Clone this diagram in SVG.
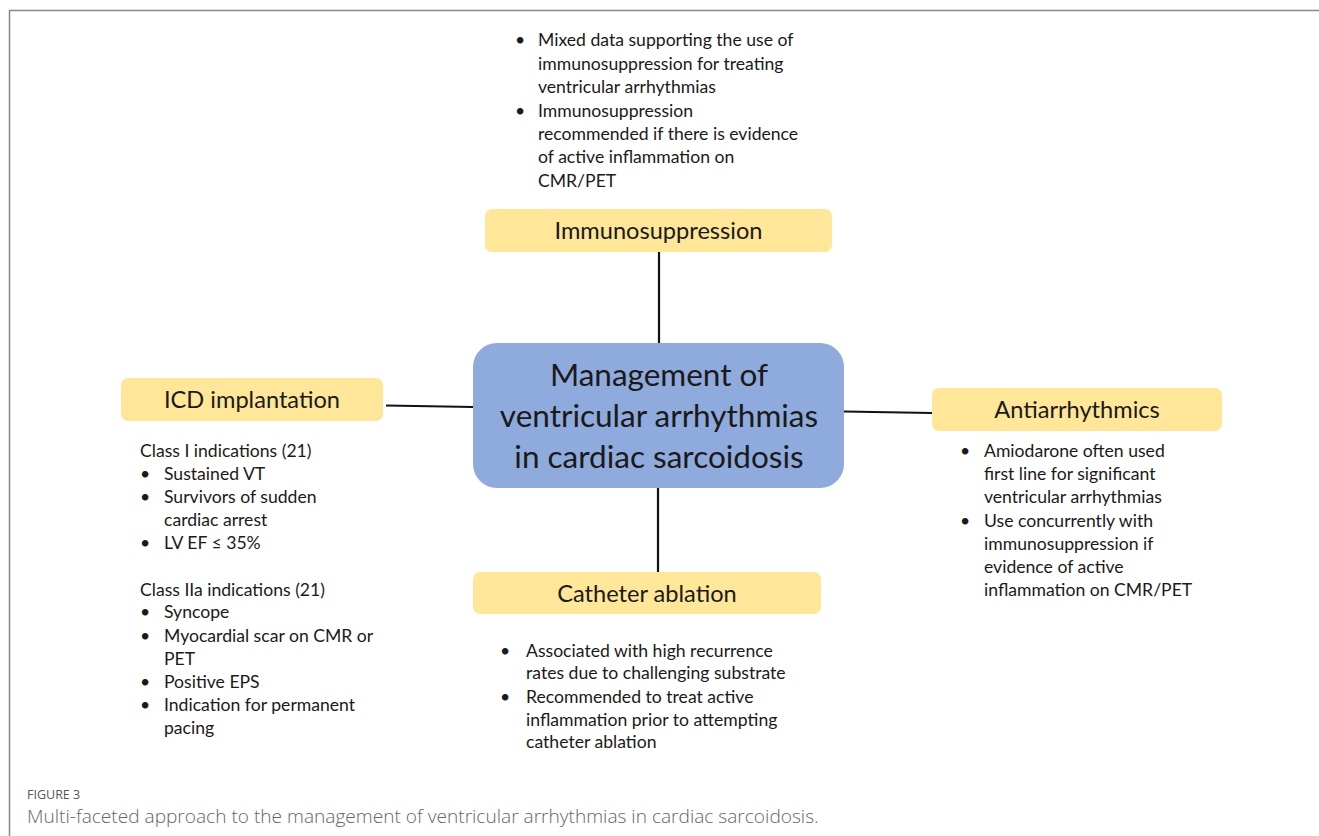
<svg xmlns="http://www.w3.org/2000/svg" width="1319" height="836" viewBox="0 0 1319 836">
<style>
text{font-family:Lato,"Open Sans","Liberation Sans",sans-serif;fill:#1a1a1a}
.box{fill:#FFE699}
.hd{font-size:23.6px;text-anchor:middle}
.b{font-size:17.6px}
.c{font-size:31.5px;text-anchor:middle}
.con{stroke:#111;stroke-width:2.2;fill:none}
.cap1{font-size:12.5px;fill:#555;font-family:"Open Sans","Noto Sans",sans-serif}
.cap2{font-size:19.1px;fill:#666;font-weight:300;font-family:"Open Sans","Noto Sans",sans-serif}
</style>
<rect width="1319" height="836" fill="#fff"/>
<path d="M9.5 836V10.5H1319" fill="none" stroke="#888" stroke-width="1.5"/>
<g id="connectors">
<line class="con" x1="659" y1="252" x2="659" y2="343"/>
<line class="con" x1="386" y1="405.5" x2="473" y2="407"/>
<line class="con" x1="844" y1="411.5" x2="932" y2="413"/>
<line class="con" x1="658" y1="488" x2="658" y2="572"/>
</g>
<g id="center">
<rect x="473" y="343" width="371" height="145" rx="24" fill="#8FAADC"/>
<text class="c" x="659" y="386">Management of</text>
<text class="c" x="659" y="427">ventricular arrhythmias</text>
<text class="c" x="659" y="468">in cardiac sarcoidosis</text>
</g>
<g id="immunosuppression">
<rect class="box" x="485" y="209" width="347" height="43" rx="7"/>
<text class="hd" x="658.5" y="239">Immunosuppression</text>
<g class="b">
<text x="515" y="46">•</text><text x="538" y="46">Mixed data supporting the use of</text>
<text x="538" y="70">immunosuppression for treating</text>
<text x="538" y="93">ventricular arrhythmias</text>
<text x="515" y="117">•</text><text x="538" y="117">Immunosuppression</text>
<text x="538" y="140">recommended if there is evidence</text>
<text x="538" y="163">of active inflammation on</text>
<text x="538" y="187">CMR/PET</text>
</g>
</g>
<g id="icd">
<rect class="box" x="121" y="378" width="262" height="43" rx="7"/>
<text class="hd" x="252" y="408">ICD implantation</text>
<g class="b">
<text x="140" y="457">Class I indications (21)</text>
<text x="140" y="480">•</text><text x="164" y="480">Sustained VT</text>
<text x="140" y="503">•</text><text x="164" y="503">Survivors of sudden</text>
<text x="164" y="526">cardiac arrest</text>
<text x="140" y="549">•</text><text x="164" y="549">LV EF ≤ 35%</text>
<text x="140" y="596">Class IIa indications (21)</text>
<text x="140" y="618">•</text><text x="164" y="618">Syncope</text>
<text x="140" y="642">•</text><text x="164" y="642">Myocardial scar on CMR or</text>
<text x="164" y="665">PET</text>
<text x="140" y="688">•</text><text x="164" y="688">Positive EPS</text>
<text x="140" y="711">•</text><text x="164" y="711">Indication for permanent</text>
<text x="164" y="734">pacing</text>
</g>
</g>
<g id="antiarrhythmics">
<rect class="box" x="932" y="388" width="290" height="43" rx="7"/>
<text class="hd" x="1077" y="418">Antiarrhythmics</text>
<g class="b">
<text x="960" y="457">•</text><text x="984" y="457">Amiodarone often used</text>
<text x="984" y="480">first line for significant</text>
<text x="984" y="503">ventricular arrhythmias</text>
<text x="960" y="527">•</text><text x="984" y="527">Use concurrently with</text>
<text x="984" y="550">immunosuppression if</text>
<text x="984" y="573">evidence of active</text>
<text x="984" y="596">inflammation on CMR/PET</text>
</g>
</g>
<g id="catheter">
<rect class="box" x="473" y="572" width="348" height="42" rx="7"/>
<text class="hd" x="647" y="602">Catheter ablation</text>
<g class="b">
<text x="500" y="657">•</text><text x="526" y="657">Associated with high recurrence</text>
<text x="526" y="679">rates due to challenging substrate</text>
<text x="500" y="703">•</text><text x="526" y="703">Recommended to treat active</text>
<text x="526" y="726">inflammation prior to attempting</text>
<text x="526" y="748">catheter ablation</text>
</g>
</g>
<g id="caption">
<text class="cap1" x="27" y="799">FIGURE 3</text>
<text class="cap2" x="27" y="823">Multi-faceted approach to the management of ventricular arrhythmias in cardiac sarcoidosis.</text>
</g>
</svg>
